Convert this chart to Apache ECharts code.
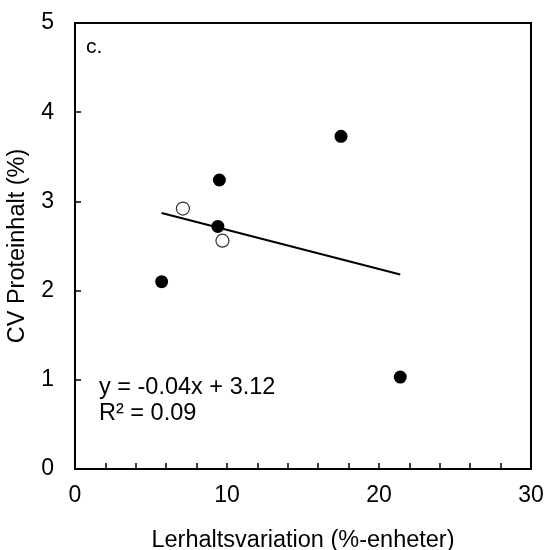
<!DOCTYPE html>
<html>
<head>
<meta charset="utf-8">
<script src="https://cdn.jsdelivr.net/npm/echarts@6/dist/echarts.min.js"></script>
<style>html,body{margin:0;padding:0;background:#fff}#c{width:545px;height:550px}</style>
</head>
<body>
<div id="c"></div>
<script>
// Filled points (Lerhaltsvariation, CV Proteinhalt)
const filledX = [5.7, 9.4, 9.5, 17.5, 21.4];
const filledY = [2.10, 2.72, 3.24, 3.73, 1.03];
// Open points
const openX = [7.1, 9.7];
const openY = [2.92, 2.56];
// Trend line endpoints
const trendX = [5.7, 21.4];
const trendY = [2.87, 2.18];
const xTicks = [0, 10, 20, 30];
const yTicks = [0, 1, 2, 3, 4, 5];
const eqText = ['y = -0.04x + 3.12', 'R² = 0.09'];
const panelLabel = 'c.';

const font = 'Liberation Sans, Arial, sans-serif';
const zip = (a, b) => a.map((v, i) => [v, b[i]]);

const chart = echarts.init(document.getElementById('c'));
chart.setOption({
  animation: false,
  backgroundColor: '#fff',
  grid: { left: 75, right: 14, top: 23, bottom: 81, outerBoundsMode: 'none', containLabel: false, show: true, borderColor: '#000', borderWidth: 2, backgroundColor: 'transparent' },
  xAxis: {
    type: 'value', min: xTicks[0], max: xTicks[xTicks.length - 1], interval: 10,
    name: 'Lerhaltsvariation (%-enheter)', nameLocation: 'middle', nameGap: 60,
    nameTextStyle: { fontFamily: font, fontSize: 23.5, color: '#000' },
    axisLine: { onZero: false, lineStyle: { color: '#000', width: 2 } },
    axisTick: { inside: true, length: 6, lineStyle: { color: '#000', width: 1.5 } },
    minorTick: { show: true, splitNumber: 5, length: 6, lineStyle: { color: '#000', width: 1.5 } },
    axisLabel: { margin: 15, fontFamily: font, fontSize: 23, color: '#000' },
    splitLine: { show: false }
  },
  yAxis: {
    type: 'value', min: yTicks[0], max: yTicks[yTicks.length - 1], interval: 1,
    name: 'CV Proteinhalt (%)', nameLocation: 'middle', nameGap: 45,
    nameTextStyle: { fontFamily: font, fontSize: 23.5, color: '#000' },
    axisLine: { onZero: false, lineStyle: { color: '#000', width: 2 } },
    axisTick: { inside: true, length: 6, lineStyle: { color: '#000', width: 1.5 } },
    axisLabel: { margin: 21, fontFamily: font, fontSize: 23, color: '#000' },
    splitLine: { show: false }
  },
  series: [
    { type: 'line', data: zip(trendX, trendY), symbol: 'none', lineStyle: { color: '#000', width: 2 }, z: 2 },
    { type: 'scatter', data: zip(filledX, filledY), symbol: 'circle', symbolSize: 13, itemStyle: { color: '#000', opacity: 1 }, z: 3 },
    { type: 'scatter', data: zip(openX, openY), symbol: 'circle', symbolSize: 13, itemStyle: { color: '#fff', borderColor: '#333', borderWidth: 1.2, opacity: 1 }, z: 3 }
  ],
  graphic: [
    { type: 'text', left: 86, top: 37, style: { text: panelLabel, fontFamily: font, fontSize: 21, fill: '#000' } },
    { type: 'text', left: 99, top: 375, style: { text: eqText.join('\n'), fontFamily: font, fontSize: 23.5, lineHeight: 26, fill: '#000' } }
  ]
});
</script>
</body>
</html>
